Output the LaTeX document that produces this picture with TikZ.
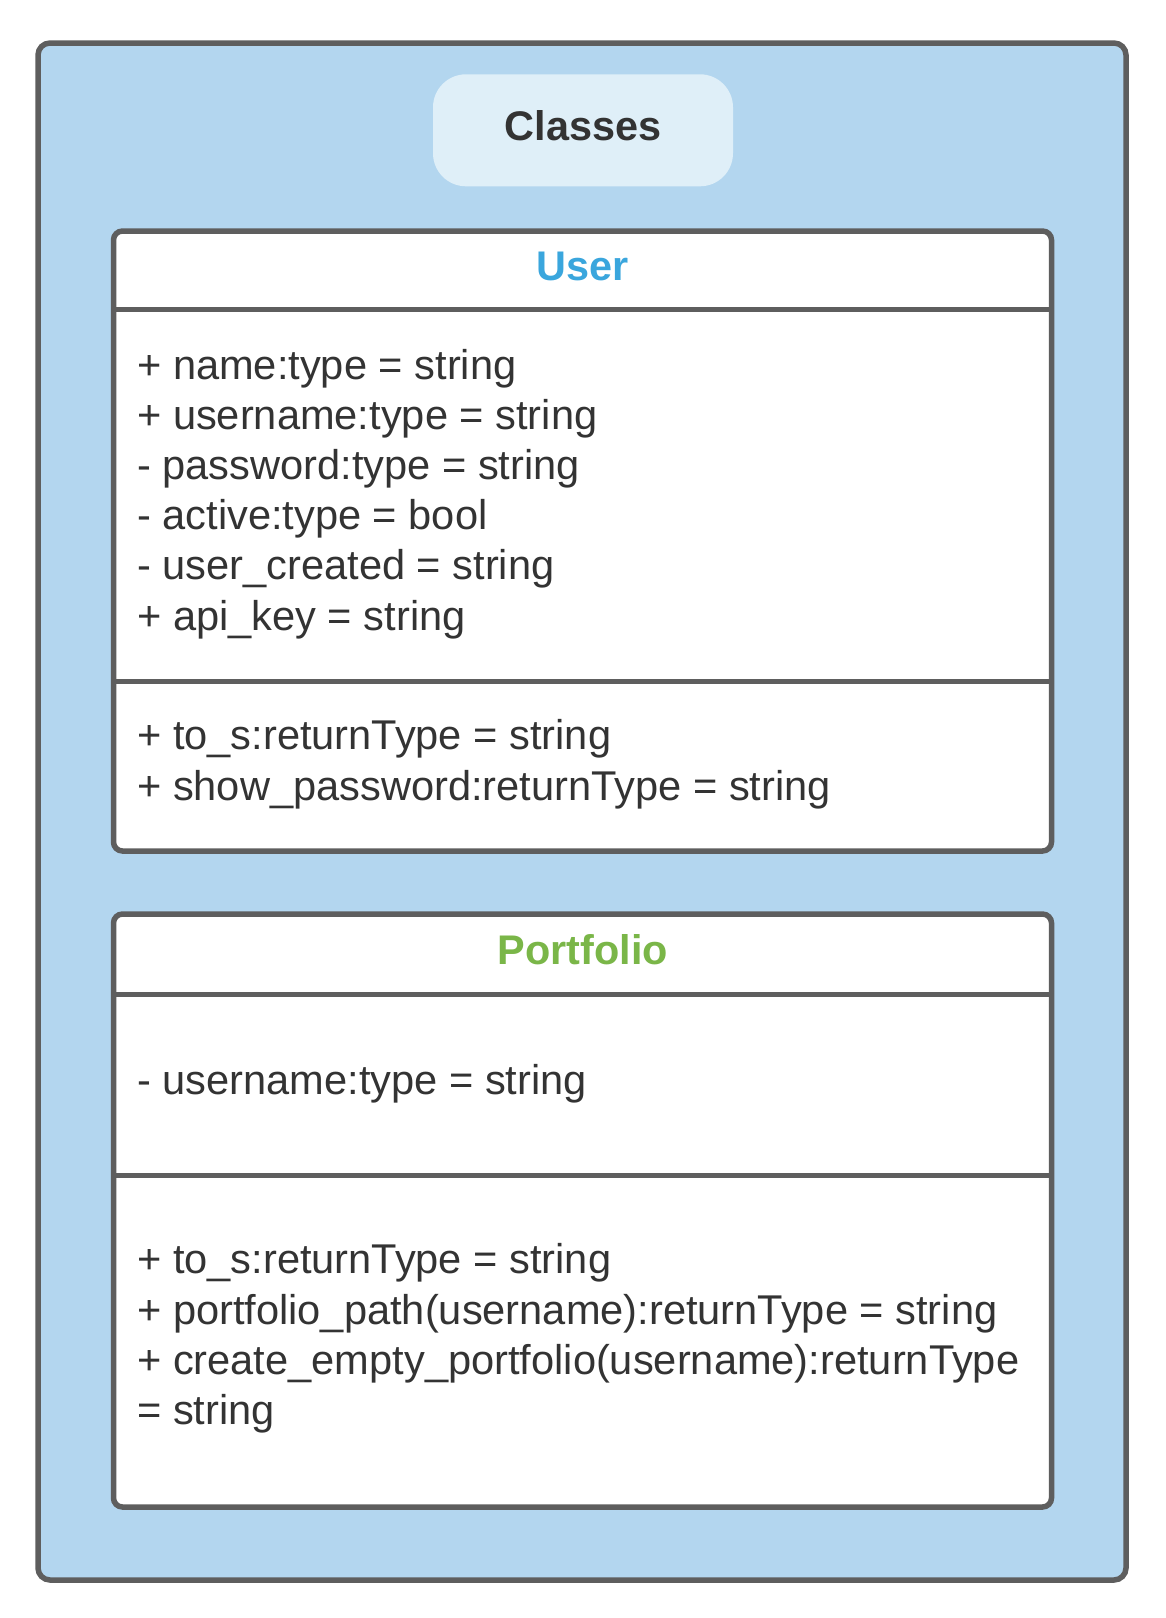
\documentclass[tikz,border=0pt]{standalone}
\usepackage{fontspec}
\setmainfont{Liberation Sans}
\usepackage{xcolor}
\usetikzlibrary{positioning}
\definecolor{linegray}{HTML}{5E5E5E}
\definecolor{textgray}{HTML}{333333}
\definecolor{framebg}{HTML}{B3D6EF}
\definecolor{titlebg}{HTML}{DFEFF8}
\definecolor{userblue}{HTML}{3AA6DD}
\definecolor{portgreen}{HTML}{7AB648}

\begin{document}
\begin{tikzpicture}[x=1pt,y=-1pt,
  frame/.style={draw=linegray,line width=5.5pt,fill=framebg,rounded corners=12pt,inner sep=0pt,outer sep=0pt},
  titlebox/.style={fill=titlebg,rounded corners=33pt,inner sep=0pt,outer sep=0pt,minimum width=300pt,minimum height=112pt},
  classbox/.style={draw=linegray,line width=5.5pt,fill=white,rounded corners=9pt,inner sep=0pt,outer sep=0pt,minimum width=938pt},
  divider/.style={draw=linegray,line width=5pt},
  members/.style={text=textgray,font=\fontsize{41.6}{50.2}\selectfont,align=left,inner sep=0pt,anchor=base west},
  heading/.style={font=\fontsize{41.4}{50.2}\selectfont\bfseries,inner sep=0pt,anchor=base}]
  \useasboundingbox (0,0) rectangle (1166,1618);

  \node[frame,minimum width=1088pt,minimum height=1537pt] (frame) at (582,811.5) {};
  \node[titlebox] (classes) at (583,130.3) {};
  \node[heading,text=textgray] (classtitle) at (583,140.5) {Classes};

  % User class
  \node[classbox,minimum height=620pt] (user) at (582.5,541) {};
  \coordinate (udiv1) at (0,309.6);
  \coordinate (udiv2) at (0,681);
  \draw[divider] (user.west |- udiv1) -- (user.east |- udiv1);
  \draw[divider] (user.west |- udiv2) -- (user.east |- udiv2);
  \node[heading,text=userblue] (usertitle) at (583,280) {User};
  % base = last line
  \node[members] (userattr) at (137,630) {+ name:type = string\\
    + username:type = string\\
    - password:type = string\\
    - active:type = bool\\
    - user\_created = string\\
    + api\_key = string};
  \node[members] (userops) at (137,800) {+ to\_s:returnType = string\\
    + show\_password:returnType = string};

  % Portfolio class
  \node[classbox,minimum height=593pt] (port) at (582.5,1210.5) {};
  \coordinate (pdiv1) at (0,994);
  \coordinate (pdiv2) at (0,1175);
  \draw[divider] (port.west |- pdiv1) -- (port.east |- pdiv1);
  \draw[divider] (port.west |- pdiv2) -- (port.east |- pdiv2);
  \node[heading,text=portgreen] (porttitle) at (583,964) {Portfolio};
  \node[members] (portattr) at (137,1094.5) {- username:type = string};
  \node[members] (portops) at (137,1424.5) {+ to\_s:returnType = string\\
    + portfolio\_path(username):returnType = string\\
    + create\_empty\_portfolio(username):returnType\\
    = string};
\end{tikzpicture}
\end{document}
